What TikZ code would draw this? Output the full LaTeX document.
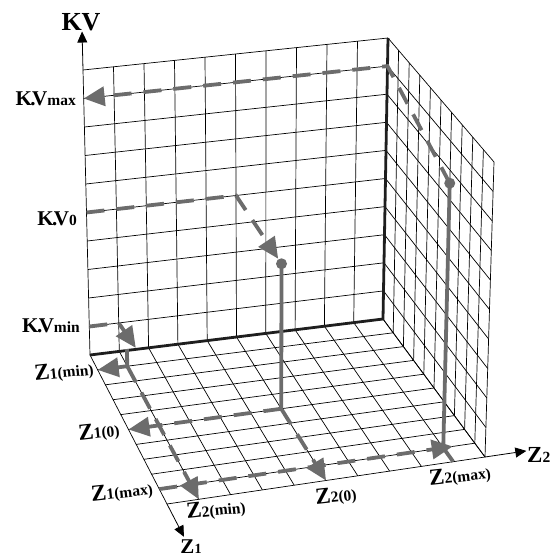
\documentclass[tikz,border=0pt]{standalone}
\usepackage{fontspec}
\setmainfont{Liberation Serif}
\usetikzlibrary{arrows.meta}
\definecolor{pathgray}{RGB}{108,108,108}
\definecolor{edgeblack}{RGB}{30,30,30}
% trilinear point of the box: #2 = Z2 (0..10), #3 = Z1 (0..10), #4 = KV (0..10)
\newcommand\mkpt[4]{%
  \pgfmathsetmacro\rsU{#2/10}%
  \pgfmathsetmacro\rsV{#3/10}%
  \pgfmathsetmacro\rsW{#4/10}%
  \pgfmathsetmacro\rsX{(1-\rsW)*((1-\rsV)*((1-\rsU)*90+\rsU*383)+\rsV*((1-\rsU)*167+\rsU*485))+\rsW*((1-\rsV)*((1-\rsU)*83+\rsU*388)+\rsV*((1-\rsU)*162+\rsU*494))}%
  \pgfmathsetmacro\rsY{(1-\rsW)*((1-\rsV)*((1-\rsU)*355+\rsU*319)+\rsV*((1-\rsU)*504+\rsU*457))+\rsW*((1-\rsV)*((1-\rsU)*70+\rsU*38)+\rsV*((1-\rsU)*205+\rsU*162))}%
  \coordinate (#1) at (\rsX pt,-\rsY pt);}
\newcommand\bigf{\fontsize{26}{26}\selectfont\bfseries}
\newcommand\kvf{\fontsize{21}{21}\selectfont\bfseries}
\newcommand\zf{\fontsize{23}{23}\selectfont\bfseries}
\newcommand\smf{\fontsize{15.5}{15.5}\selectfont\bfseries}
\newcommand\KVt{{\kvf K\kern-1.5pt.\kern-3.5pt V}}
\newcommand\Zt[1]{{\zf Z}{\smf #1}}
\tikzset{
  gridln/.style={black, line width=0.7pt},
  thickedge/.style={edgeblack, line width=2.8pt},
  axisln/.style={black, line width=0.8pt, -{Triangle[length=11pt,width=10pt]}},
  dashpath/.style={pathgray, line width=3.8pt, dash pattern=on 18pt off 12pt},
  solidpath/.style={pathgray, line width=3.8pt},
  bigtip/.style={-{Triangle[length=21pt,width=19pt]}},
  dotmark/.style={circle, fill=pathgray, inner sep=0pt, minimum size=11pt},
  lbl/.style={inner sep=0pt, black},
  floorlbl/.style={inner sep=0pt, black, rotate=6}
}
\begin{document}
\begin{tikzpicture}
\useasboundingbox (0,0) rectangle (554pt,-560pt);
% ---------- grids ----------
\foreach \i in {0,...,10}{
  \mkpt{a}{\i}{0}{0}\mkpt{b}{\i}{0}{10}\draw[gridln] (a)--(b);
  \mkpt{a}{0}{0}{\i}\mkpt{b}{10}{0}{\i}\draw[gridln] (a)--(b);
  \mkpt{a}{10}{\i}{0}\mkpt{b}{10}{\i}{10}\draw[gridln] (a)--(b);
  \mkpt{a}{10}{0}{\i}\mkpt{b}{10}{10}{\i}\draw[gridln] (a)--(b);
  \mkpt{a}{\i}{0}{0}\mkpt{b}{\i}{10}{0}\draw[gridln] (a)--(b);
  \mkpt{a}{0}{\i}{0}\mkpt{b}{10}{\i}{0}\draw[gridln] (a)--(b);
}
% ---------- corners, thick edges, axes ----------
\mkpt{o}{0}{0}{0}
\mkpt{br}{10}{0}{0}
\mkpt{tr}{10}{0}{10}
\mkpt{tl}{0}{0}{10}
\mkpt{fl}{0}{10}{0}
\mkpt{fr}{10}{10}{0}
\mkpt{kvtip}{0}{0}{11.35}
\mkpt{zonetip}{0}{12.2}{0}
\mkpt{ztwotip}{11.3}{10}{0}
\draw[thickedge] (o)--(br)--(tr);
\draw[axisln] (tl)--(kvtip);
\draw[axisln] (fl)--(zonetip);
\draw[axisln] (fr)--(ztwotip);
% ---------- key points ----------
\mkpt{kvmax}{0}{0}{9}
\mkpt{cornmax}{10}{0}{9}
\mkpt{pmax}{9}{9}{9}
\mkpt{fmax}{9}{9}{0}
\mkpt{fmaxb}{9.3}{9}{0}
\mkpt{zonemax}{0}{9}{0}
\mkpt{ztwomax}{9}{10}{0}
\mkpt{kvzero}{0}{0}{5}
\mkpt{cornzero}{5}{0}{5}
\mkpt{pzero}{5}{5}{5}
\mkpt{fzero}{5}{5}{0}
\mkpt{zonezero}{0}{5}{0}
\mkpt{ztwozero}{5}{10}{0}
\mkpt{kvmin}{0}{0}{1}
\mkpt{cornmin}{1}{0}{1}
\mkpt{pmin}{1}{1}{0.6}
\mkpt{pmintip}{1.3}{1}{0.6}
\mkpt{fmin}{1}{1}{0}
\mkpt{zonemin}{0}{1}{0}
\mkpt{ztwomin}{1}{10}{0}
% ---------- drops ----------
\draw[solidpath] (pmax)--(fmax);
\draw[solidpath] (pzero)--(fzero);
\draw[solidpath] (pmin)--(fmin);
% ---------- floor paths ----------
\draw[dashpath,bigtip] (fzero)--(zonezero);
\draw[dashpath,bigtip] (fzero)--(ztwozero);
\draw[dashpath,bigtip] (fmin)--(zonemin);
\draw[dashpath,bigtip] (fmin)--(ztwomin);
\draw[dashpath,bigtip] (zonemax)--(fmaxb);
\draw[solidpath] (fmax)--(ztwomax);
% ---------- KV paths ----------
\draw[dashpath,bigtip] (pmax)--(cornmax)--(kvmax);
\draw[dashpath,bigtip,shorten >=6pt] (kvzero)--(cornzero)--(pzero);
\draw[dashpath,bigtip] (kvmin)--(cornmin)--(pmintip);
\node[dotmark] (dmax) at (pmax) {};
\node[dotmark] (dzero) at (pzero) {};
% ---------- labels ----------
\node[lbl] (lkv) at (81pt,-22pt) {\bigf KV};
\node[lbl,anchor=base east] (lkvmax) at (76pt,-105pt) {\KVt{\smf max}};
\node[lbl,anchor=base east] (lkvzero) at (77pt,-225pt) {\KVt{\smf 0}};
\node[lbl,anchor=base east] (lkvmin) at (80pt,-332pt) {\KVt{\smf min}};
\node[floorlbl] (lzmin) at (64pt,-372pt) {\Zt{1(min)}};
\node[floorlbl] (lzzero) at (99pt,-432pt) {\Zt{1(0)}};
\node[floorlbl] (lzmax) at (122pt,-492pt) {\Zt{1(max)}};
\node[floorlbl] (ltmin) at (216pt,-510pt) {\Zt{2(min)}};
\node[floorlbl] (ltzero) at (336pt,-496pt) {\Zt{2(0)}};
\node[floorlbl] (ltmax) at (460pt,-476pt) {\Zt{2(max)}};
\node[lbl,anchor=west] (lztwo) at (527pt,-455pt) {\Zt{2}};
\node[lbl,anchor=base] (lzone) at (191pt,-553pt) {{\fontsize{21}{21}\selectfont\bfseries Z}{\fontsize{14}{14}\selectfont\bfseries 1}};
\end{tikzpicture}
\end{document}
